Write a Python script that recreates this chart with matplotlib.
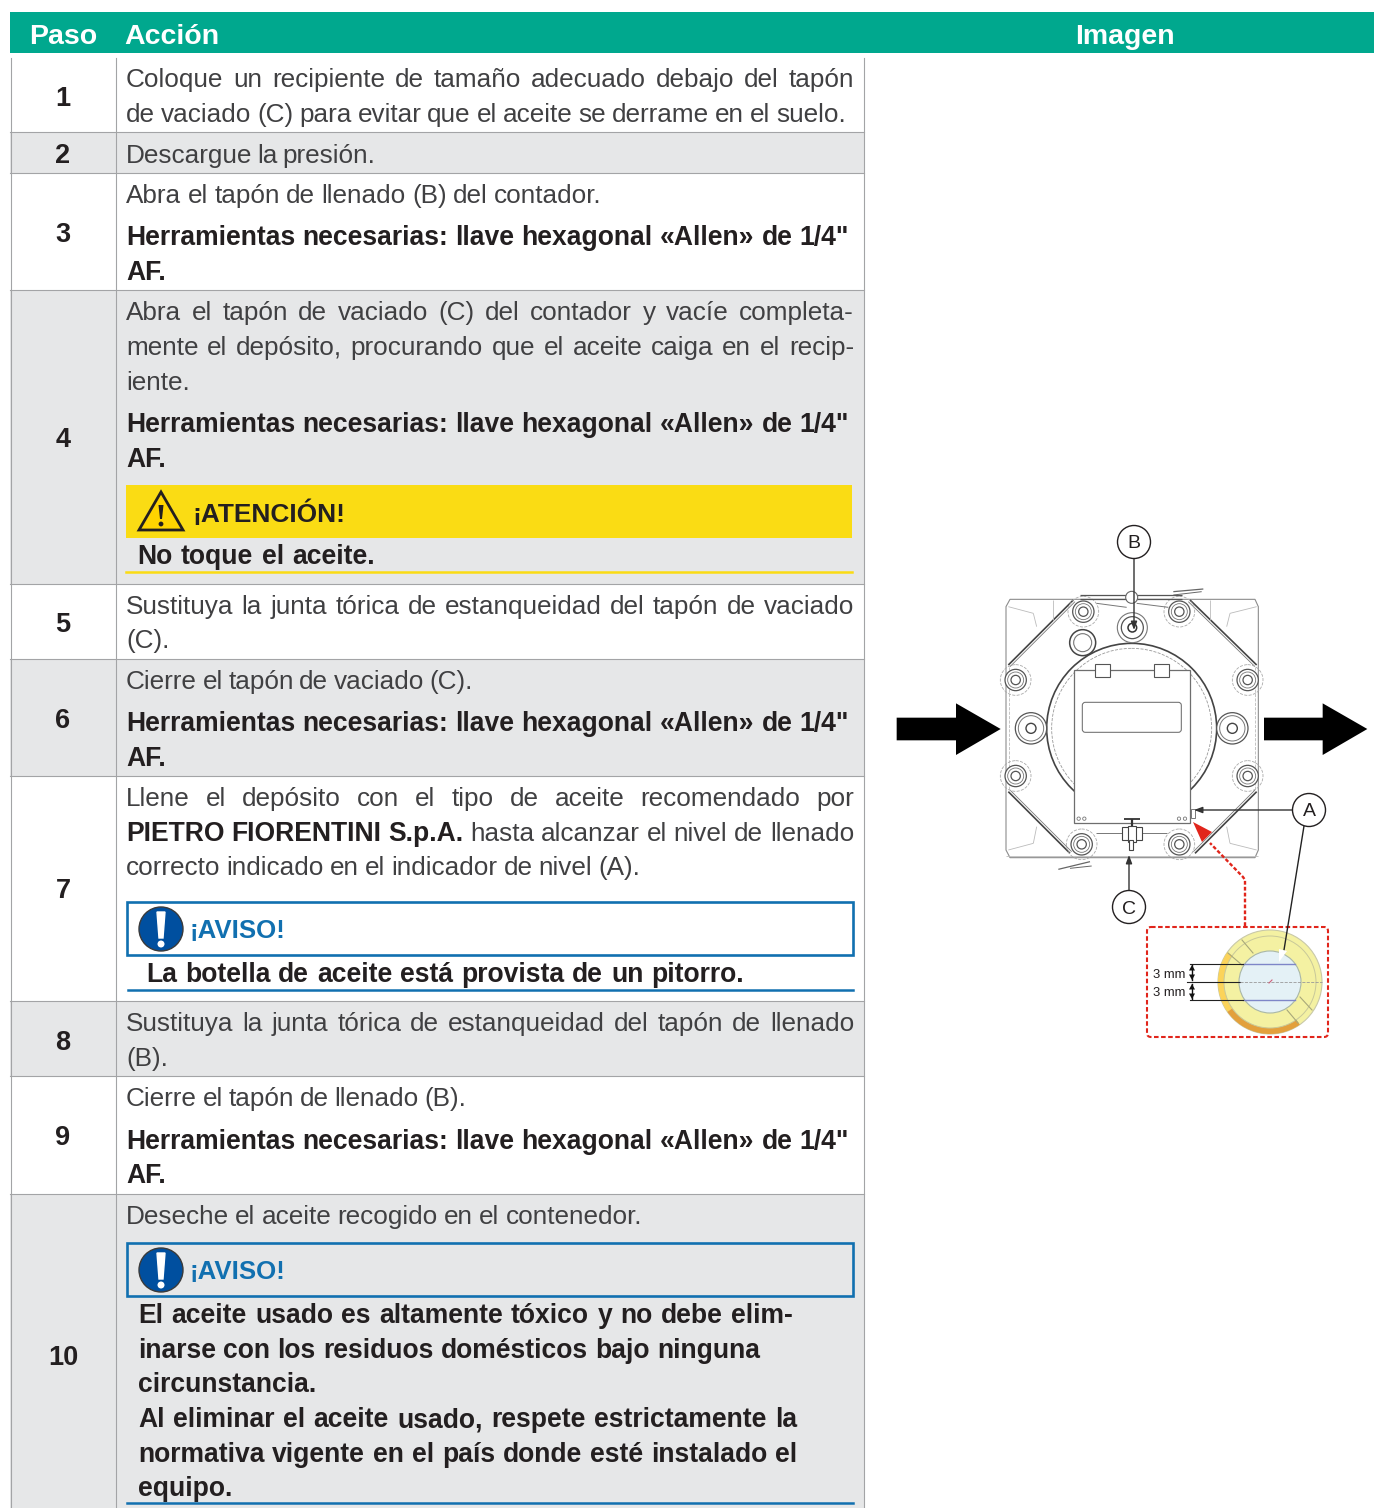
import matplotlib
matplotlib.use('Agg')
import matplotlib.pyplot as plt
from matplotlib.patches import Rectangle, Circle, Polygon, FancyBboxPatch, Wedge

W, H = 1374, 1508
FONT = 'Liberation Sans'
GREEN = '#00A88E'; GREY = '#E6E7E8'; RULE = '#A3A4A6'; BODY = '#404042'; DARK = '#231F20'
YELLOW = '#FADC14'; BLUE = '#1170B0'; NAVY = '#004F9F'; RED = '#E1251B'

# ---- table content -------------------------------------------------------
headers = ['Paso', 'Acción', 'Imagen']
steps = ['1', '2', '3', '4', '5', '6', '7', '8', '9', '10']
TOOLS = 'Herramientas necesarias: llave hexagonal «Allen» de 1/4"'
body_lines = [
    'Coloque un recipiente de tamaño adecuado debajo del tapón',
    'de vaciado (C) para evitar que el aceite se derrame en el suelo.',
    'Descargue la presión.',
    'Abra el tapón de llenado (B) del contador.',
    'Abra el tapón de vaciado (C) del contador y vacíe completa-',
    'mente el depósito, procurando que el aceite caiga en el recip-',
    'iente.',
    'Sustituya la junta tórica de estanqueidad del tapón de vaciado',
    '(C).',
    'Cierre el tapón de vaciado (C).',
    'Llene el depósito con el tipo de aceite recomendado por',
    'correcto indicado en el indicador de nivel (A).',
    'Sustituya la junta tórica de estanqueidad del tapón de llenado',
    '(B).',
    'Cierre el tapón de llenado (B).',
    'Deseche el aceite recogido en el contenedor.',
]
body_base = [87, 122, 163, 203, 320, 355, 390, 614, 648, 689, 806, 875, 1031, 1066, 1106, 1224]
body_end = [854, 846, 375, 602, 854, 854, 188, 854, 164, 473, 854, 640, 854, 163, 466, 642]
tool_base = [245, 432, 731, 1149]
af_base = [280, 467, 766, 1183]
disposal_lines = [
    'El aceite usado es altamente tóxico y no debe elim-',
    'inarse con los residuos domésticos bajo ninguna',
    'circunstancia.',
    'Al eliminar el aceite usado, respete estrictamente la',
    'normativa vigente en el país donde esté instalado el',
    'equipo.',
]
disposal_base = [1323, 1358, 1392, 1427, 1462, 1496]
disposal_end = [793, 760, 317, 797, 797, 232]

# ---- layout --------------------------------------------------------------
row_edges = [58, 132, 173, 290, 584, 659, 776, 1001, 1076, 1194, 1508]
step_y = [96, 153, 232, 437, 622, 718, 888, 1040, 1135, 1355]

fig = plt.figure(figsize=(W / 100, H / 100), dpi=100, facecolor='white')
ax = fig.add_axes([0, 0, 1, 1])
ax.set_xlim(0, W); ax.set_ylim(H, 0); ax.axis('off')
rend = fig.canvas.get_renderer()
BS = 18.8
BB = 19.1


def width(s, bold, size):
    t = ax.text(0, 0, s, fontfamily=FONT, fontweight='bold' if bold else 'normal', fontsize=size)
    w = t.get_window_extent(rend).width
    t.remove()
    return w


def put(x0, y, runs, x1=None, color=None):
    """runs: list of (string, bold). Words are spaced to finish at x1."""
    if isinstance(runs, str):
        runs = [(runs, False)]
    words = [(w, b) for s, b in runs for w in s.split(' ')]
    ws = [width(w, b, BB if b else BS) for w, b in words]
    gap = width('a a', False, BS) - width('aa', False, BS)
    if x1 is not None and len(words) > 1:
        gap = (x1 - x0 - sum(ws)) / (len(words) - 1)
    x = x0
    for (w, b), wd in zip(words, ws):
        c = color or (DARK if b else BODY)
        ax.text(x, y, w, fontfamily=FONT, fontweight='bold' if b else 'normal', fontsize=BB if b else BS,
                color=c, va='baseline', ha='left')
        x += wd + gap


# header
ax.add_patch(Rectangle((10, 12), 1364, 41, fc=GREEN, ec='none'))
for s, x in zip(headers, [63, 172, 1125]):
    ax.text(x, 44, s, fontfamily=FONT, fontweight='bold', fontsize=20.5, color='white', ha='center', va='baseline')

# rows
for i, s in enumerate(steps):
    top, bot = row_edges[i], row_edges[i + 1]
    ax.add_patch(Rectangle((10, top), 854, bot - top, fc=GREY if i % 2 else 'white', ec='none'))
    ax.text(63, step_y[i], s, fontfamily=FONT, fontweight='bold', fontsize=19.5, color=DARK, ha='center', va='center_baseline')
for y in row_edges[1:-1]:
    ax.plot([10, 864], [y, y], color=RULE, lw=0.8)
for x in [10.5, 116, 864]:
    ax.plot([x, x], [58, H], color=RULE, lw=0.8)

# body
for s, y, e in zip(body_lines, body_base, body_end):
    put(126, y, s, e)
put(126, 841, [('PIETRO FIORENTINI S.p.A.', True), ('hasta alcanzar el nivel de llenado', False)], 854)
for y in tool_base:
    put(126, y, [(TOOLS, True)], 849)
for y in af_base:
    put(126, y, [('AF.', True)])

# attention
ax.add_patch(Rectangle((126, 485), 726, 53, fc=YELLOW, ec='none'))
ax.add_patch(Polygon([(161, 492), (139, 530), (183, 530)], closed=True, fc='#FFD400', ec=DARK, lw=2, joinstyle='miter'))
ax.add_patch(Polygon([(158.5, 505), (163.5, 505), (162, 519), (160, 519)], closed=True, fc=DARK, ec='none'))
ax.add_patch(Circle((161, 524), 2.4, fc=DARK, ec='none'))
ax.text(192, 522, '¡ATENCIÓN!', fontfamily=FONT, fontweight='bold', fontsize=18.9, color=DARK, va='baseline')
put(137, 564, [('No toque el aceite.', True)], 375)
ax.plot([126, 852], [572, 572], color=YELLOW, lw=1.8)


def notice(top):
    ax.add_patch(Rectangle((127, top), 726, 53, fc='none', ec=BLUE, lw=1.9))
    cy = top + 27
    ax.add_patch(Circle((161, cy), 22, fc=NAVY, ec='#3A3A3A', lw=1))
    ax.add_patch(Polygon([(157, cy - 17), (165, cy - 17), (163, cy + 9), (159, cy + 9)], closed=True, fc='white', ec='white', lw=1))
    ax.add_patch(Circle((161, cy + 15), 3.5, fc='white', ec='none'))
    ax.text(190, top + 36, '¡AVISO!', fontfamily=FONT, fontweight='bold', fontsize=18.6, color=BLUE, va='baseline')


notice(902)
put(146, 982, [('La botella de aceite está provista de un pitorro.', True)], 744)
ax.plot([128, 853], [990, 990], color=BLUE, lw=1.8)
notice(1243)
for s, y, e in zip(disposal_lines, disposal_base, disposal_end):
    put(138, y, [(s, True)], e)
ax.plot([127, 853], [1503, 1503], color=BLUE, lw=1.8)


# ---- illustration --------------------------------------------------------
def Z(x, y):
    return 880 + x / 3, 510 + y / 3


def seg(a, b, c='#555555', lw=0.8, ls='-', z=3):
    p, q = Z(*a), Z(*b)
    ax.plot([p[0], q[0]], [p[1], q[1]], color=c, lw=lw, ls=ls, zorder=z, solid_capstyle='butt')


def ring(x, y, r, c='#555555', lw=0.8, ls='-', fc='none', z=3):
    ax.add_patch(Circle(Z(x, y), r / 3, fc=fc, ec=c, lw=lw, ls=ls, zorder=z))


outer = [(390, 268), (1125, 268), (1135, 290), (1135, 1020), (1125, 1043), (390, 1043), (378, 1020), (378, 290)]
ax.add_patch(Polygon([Z(*p) for p in outer], closed=True, fc='white', ec='#8C8C8C', lw=0.8, zorder=2))
seg((378, 1038), (1135, 1038), '#BBBBBB', 0.6)
seg((388, 470), (388, 840), '#BBBBBB', 0.6, '--')
seg((1125, 470), (1125, 840), '#BBBBBB', 0.6, '--')
for a, b, o in [((580, 270), (385, 465), (5, 5)), ((930, 270), (1130, 465), (-5, 5)),
                ((385, 845), (570, 1030), (5, -5)), ((1130, 845), (945, 1030), (-5, -5))]:
    seg(a, b, '#444444', 1.2)
    seg((a[0] + o[0], a[1] + o[1]), (b[0] + o[0], b[1] + o[1]), '#777777', 0.6)
for a, b in [((385, 290), (460, 310)), ((460, 310), (470, 350)), ((1130, 290), (1050, 310)), ((1050, 310), (1040, 350)),
             ((385, 1020), (460, 1000)), ((460, 1000), (470, 950)), ((1130, 1020), (1050, 1000)), ((1050, 1000), (1040, 950)),
             ((520, 270), (520, 330)), ((990, 270), (990, 330))]:
    seg(a, b, '#BBBBBB', 0.6)
# centre body
ring(755, 655, 255, '#444444', 1.2, fc='white')
ring(755, 655, 240, '#999999', 0.6, '--')
# bolts
for x, y in [(407, 510), (1103, 510), (407, 798), (1103, 798), (610, 305), (898, 305), (605, 1003), (898, 1003)]:
    ring(x, y, 46, '#AAAAAA', 0.6, '--')
    ring(x, y, 32, '#555555', 0.9, fc='white')
    ring(x, y, 24, '#777777', 0.6)
    ring(x, y, 14, '#555555', 0.9)
for x, y in [(453, 655), (1057, 655)]:
    ring(x, y, 47, '#555555', 0.9, fc='white')
    ring(x, y, 38, '#777777', 0.7)
    ring(x, y, 15, '#444444', 1)
ring(757, 353, 45, '#777777', 0.8, fc='white')
ring(757, 353, 33, '#555555', 0.9)
ring(757, 353, 13, '#333333', 1.1)
ring(608, 398, 39, '#444444', 1.1, fc='white')
ring(608, 398, 27, '#777777', 0.8)
# top details
seg((600, 255), (905, 255), '#555555', 0.9)
seg((600, 268), (905, 268), '#555555', 0.9)
seg((650, 280), (740, 292), '#777777', 0.7)
seg((770, 280), (865, 292), '#777777', 0.7)
ring(755, 262, 18, '#666666', 0.8, fc='white')
seg((880, 245), (970, 237), '#666666', 0.9)
seg((880, 255), (965, 245), '#666666', 0.7)
seg((535, 1078), (630, 1055), '#666666', 0.9)
seg((570, 1075), (635, 1068), '#666666', 0.7)
# panel
px0, py0 = Z(583, 480)
px1, py1 = Z(930, 938)
ax.add_patch(Rectangle((px0, py0), px1 - px0, py1 - py0, fc='white', ec='#6E6E6E', lw=0.9, zorder=4))
for x in (645, 822):
    q = Z(x, 463)
    ax.add_patch(Rectangle(q, 15, 13, fc='white', ec='#555555', lw=0.8, zorder=5))
q = Z(607, 577)
ax.add_patch(FancyBboxPatch(q, 99, 30, boxstyle='round,pad=0,rounding_size=3', fc='white', ec='#777777', lw=0.8, zorder=5))
for x, y in [(596, 926), (613, 926), (897, 926), (915, 926)]:
    ring(x, y, 5, '#777777', 0.6, z=5)
# drain valve
seg((648, 970), (862, 970), '#777777', 0.7, z=5)
seg((733, 927), (780, 927), '#333333', 1.3, z=5)
seg((757, 927), (757, 950), '#333333', 1.6, z=5)
for q, dx, dy in [(Z(725, 950), 20, 13), (Z(745, 948), 8, 16), (Z(748, 990), 4, 10)]:
    ax.add_patch(Rectangle(q, dx, dy, fc='white', ec='#444444', lw=0.8, zorder=5))
# sight glass
a = Z(932, 897)
ax.add_patch(Rectangle(a, 4, 9, fc='white', ec='#777777', lw=0.7, zorder=5))

# flow arrows
for x0, xm, xt in [(50, 228, 362), (1152, 1328, 1462)]:
    pts = [(x0, 623), (xm, 623), (xm, 580), (xt, 657), (xm, 735), (xm, 691), (x0, 691)]
    ax.add_patch(Polygon([Z(*p) for p in pts], closed=True, fc='black', ec='none', zorder=6))


# leaders
def arrow(start, end, c='#333333', lw=1, ms=7):
    ax.annotate('', xy=end, xytext=start, zorder=9,
                arrowprops=dict(arrowstyle='-|>,head_length=0.35,head_width=0.13', color=c, lw=lw,
                                shrinkA=0, shrinkB=0, mutation_scale=ms * 2))


for s, (x, y) in zip('BAC', [(1134, 542), (1309, 810), (1129, 907)]):
    ax.add_patch(Circle((x, y), 16.5, fc='white', ec=DARK, lw=1, zorder=10))
    ax.text(x, y, s, fontfamily=FONT, fontsize=14, color=DARK, ha='center', va='center_baseline', zorder=11)
arrow((1134, 558), (1134, 630))
arrow((1292, 810), (1194, 810))
arrow((1129, 890), (1129, 855))

# red call-out
ax.plot([1245, 1245, 1243, 1210], [926, 880, 877, 843], color=RED, lw=1.7, ls=(0, (1.6, 0.9)), zorder=8)
ax.add_patch(Polygon([(1193, 822), (1212, 832), (1202, 842)], closed=True, fc=RED, ec='none', zorder=8))
ax.add_patch(FancyBboxPatch((1147, 927), 181, 110, boxstyle='round,pad=0,rounding_size=4', fc='white',
                            ec=RED, lw=1.5, ls=(0, (2.2, 1.2)), zorder=3))

# gauge
cx, cy = 1270, 982
ax.add_patch(Circle((cx, cy), 52, fc='#F4F1A2', ec='#C9C9A8', lw=0.8, zorder=4))
ax.add_patch(Wedge((cx, cy), 52, 145, 215, width=6, fc='#FBD35A', ec='none', zorder=5))
ax.add_patch(Wedge((cx, cy), 52, 55, 145, width=6, fc='#E3A03C', ec='none', zorder=5))
ax.add_patch(Circle((cx, cy), 46, fc='none', ec='#C8C89A', lw=0.7, zorder=5))
for x0, y0, x1, y1 in [(-28, -42, -17, -29), (-42, -29, -28, -17), (42, 28, 30, 15), (28, 41, 17, 28)]:
    ax.plot([cx + x0, cx + x1], [cy + y0, cy + y1], color='#A8A87A', lw=0.8, zorder=6)
ax.add_patch(Circle((cx, cy), 31, fc='#E4F1F6', ec='#A9B7A8', lw=0.8, zorder=6))
for y in (964, 1000):
    ax.plot([1243, 1295], [y, y], color='#7E86C8', lw=1, zorder=7)
    ax.plot([1190, 1243], [y, y], color='#222222', lw=0.8, zorder=7)
ax.plot([1187, 1240], [982, 982], color='#222222', lw=0.8, zorder=7)
ax.plot([1240, 1322], [982, 982], color='#999999', lw=0.6, ls='--', zorder=7)
ax.plot([1269, 1272], [983, 980], color='#D0607A', lw=0.8, zorder=7)
for t, y in [('3 mm', 973), ('3 mm', 992)]:
    ax.text(1185, y, t, fontfamily=FONT, fontsize=9.4, color=DARK, ha='right', va='center_baseline', zorder=8)
for y0, y1 in [(965, 980), (984, 999)]:
    ax.plot([1192, 1192], [y0, y1], color='#111111', lw=1, zorder=8)
    ax.add_patch(Polygon([(1192, y0), (1189, y0 + 5.5), (1195, y0 + 5.5)], closed=True, fc='#111111', ec='none', zorder=8))
    ax.add_patch(Polygon([(1192, y1), (1189, y1 - 5.5), (1195, y1 - 5.5)], closed=True, fc='#111111', ec='none', zorder=8))
# leader A to the gauge, white head
ax.plot([1304, 1284], [826, 950], color='#222222', lw=1, zorder=9)
ax.add_patch(Polygon([(1279, 962), (1279, 949), (1287, 951)], closed=True, fc='white', ec='none', zorder=9))

fig.savefig('out.png', dpi=100, facecolor='white')
